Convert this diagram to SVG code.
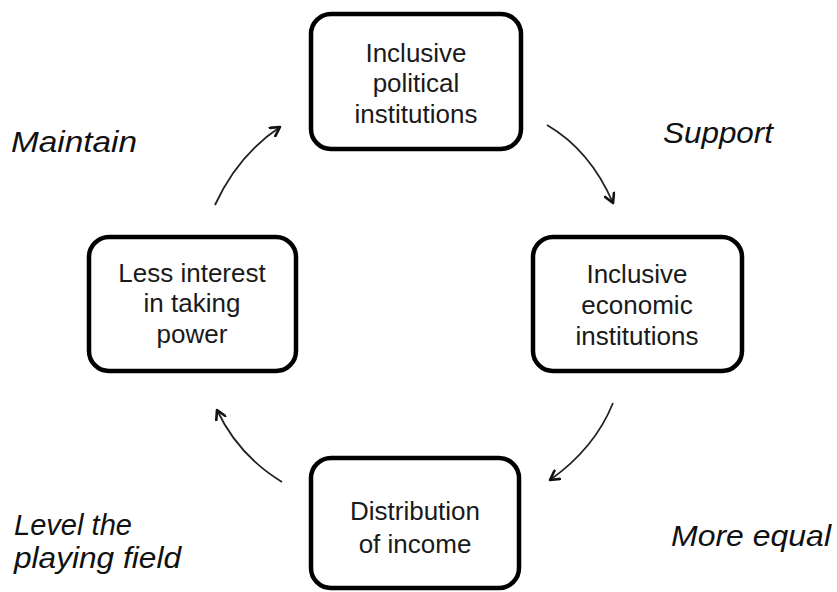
<svg xmlns="http://www.w3.org/2000/svg" width="837" height="592" viewBox="0 0 837 592">
<style>
.box{fill:#fff;stroke:#000;stroke-width:4.5}
.nt{font-family:"Liberation Sans",Arial,sans-serif;font-size:26px;fill:#1a1a1a;text-anchor:middle}
.lb{font-family:"Liberation Sans",Arial,sans-serif;font-size:29px;font-style:italic;fill:#111}
.arr{fill:none;stroke:#222;stroke-width:1.8;marker-end:url(#ah)}
</style>
<defs>
<marker id="ah" viewBox="0 0 12 12" refX="10" refY="6" markerWidth="12" markerHeight="12" markerUnits="userSpaceOnUse" orient="auto">
<path d="M1,1 L10,6 L1,11" fill="none" stroke="#111" stroke-width="2.6" stroke-linecap="round" stroke-linejoin="round"/>
</marker>
</defs>
<rect width="837" height="592" fill="#fff"/>
<g id="n-political">
<rect class="box" x="311" y="14" width="210" height="135" rx="20"/>
<text class="nt" x="416" y="62">Inclusive</text>
<text class="nt" x="416" y="92">political</text>
<text class="nt" x="416" y="123">institutions</text>
</g>
<g id="n-economic">
<rect class="box" x="533" y="237" width="209" height="134" rx="20"/>
<text class="nt" x="637" y="283">Inclusive</text>
<text class="nt" x="637" y="314">economic</text>
<text class="nt" x="637" y="345">institutions</text>
</g>
<g id="n-income">
<rect class="box" x="311" y="458" width="208" height="130" rx="20"/>
<text class="nt" x="415" y="520">Distribution</text>
<text class="nt" x="415" y="553">of income</text>
</g>
<g id="n-power">
<rect class="box" x="89" y="237" width="207" height="134" rx="20"/>
<text class="nt" x="192" y="282">Less interest</text>
<text class="nt" x="192" y="312">in taking</text>
<text class="nt" x="192" y="343">power</text>
</g>
<g id="connectors">
<path class="arr" d="M547,125 Q590,150 613,203"/>
<path class="arr" d="M613,403 Q595,448 550,480"/>
<path class="arr" d="M282,482 Q238,455 217,410"/>
<path class="arr" d="M215,205 Q238,155 280,127"/>
</g>
<g id="labels">
<text class="lb" x="11" y="152" textLength="126" lengthAdjust="spacingAndGlyphs">Maintain</text>
<text class="lb" x="663" y="143" textLength="110" lengthAdjust="spacingAndGlyphs">Support</text>
<text class="lb" x="671" y="546" textLength="160" lengthAdjust="spacingAndGlyphs">More equal</text>
<text class="lb" x="14" y="535" textLength="118" lengthAdjust="spacingAndGlyphs">Level the</text>
<text class="lb" x="14" y="568" textLength="167" lengthAdjust="spacingAndGlyphs">playing field</text>
</g>
</svg>
